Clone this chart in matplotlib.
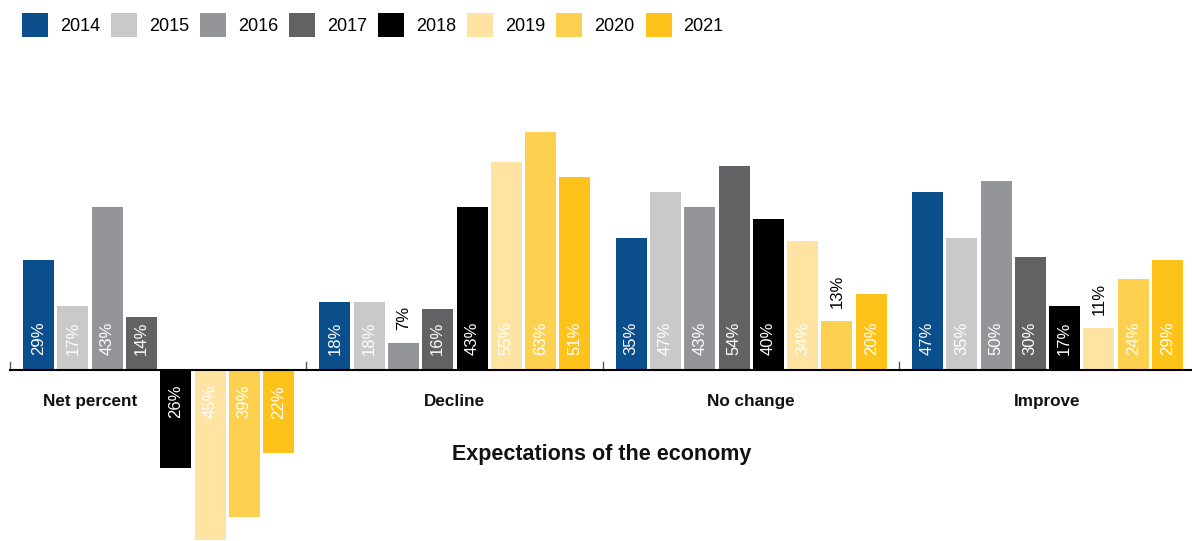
import matplotlib
matplotlib.use("Agg")
import matplotlib.pyplot as plt
from matplotlib.patches import Patch

plt.rcParams['font.family'] = ['Liberation Sans', 'DejaVu Sans']

# data
groups = ["Net percent", "Decline", "No change", "Improve"]
years = ["2014", "2015", "2016", "2017", "2018", "2019", "2020", "2021"]
net_percent = [29, 17, 43, 14, -26, -45, -39, -22]
decline = [18, 18, 7, 16, 43, 55, 63, 51]
no_change = [35, 47, 43, 54, 40, 34, 13, 20]
improve = [47, 35, 50, 30, 17, 11, 24, 29]
values = [net_percent, decline, no_change, improve]
colors = ["#0a4e8c", "#c8c9c8", "#949598", "#626264", "#000000",
          "#fee3a2", "#fdd14f", "#fec31a"]
title = "Expectations of the economy"

# layout (x in pixel-like units)
W, H = 1192, 541
x0 = 10          # start of first group
group_w = 296.3
slot = 34.3
bar_w = 31
pad = 13
outside_max = 13  # labels of bars this small go above the bar

fig = plt.figure(figsize=(W / 100, H / 100), dpi=100)
ax = fig.add_axes([0, 0, 1, 1])
ax.set_xlim(0, W)
ax.set_ylim(-45.3, 97.9)
ax.axis("off")

for g, (name, vals) in enumerate(zip(groups, values)):
    start = x0 + g * group_w
    xs = [start + pad + bar_w / 2 + j * slot for j in range(len(vals))]
    ax.bar(xs, vals, width=bar_w, color=colors, zorder=2)
    for x, v in zip(xs, vals):
        txt = f"{abs(v)}%"
        if v < 0:
            ax.text(x, -4, txt, rotation=90, ha="center", va="top",
                    color="white", fontsize=12)
        elif v <= outside_max:
            ax.text(x, v + 3.5, txt, rotation=90, ha="center", va="bottom",
                    color="black", fontsize=12)
        else:
            ax.text(x, 4, txt, rotation=90, ha="center", va="bottom",
                    color="white", fontsize=12)
    # group label centred under the non-negative bars
    pos = [x for x, v in zip(xs, vals) if v >= 0]
    lx = (min(pos) + max(pos)) / 2
    ax.text(lx, -8.5, name, ha="center", va="center", fontsize=12.3,
            fontweight="bold", color="#111111")
    # small tick at group start
    ax.plot([start, start], [0, 2.2], color="#555555", lw=1, zorder=1)

ax.plot([x0, W], [0, 0], color="black", lw=1.5, zorder=3)
ax.text(602, -22.5, title, ha="center", va="center", fontsize=15.5,
        fontweight="bold", color="#111111")

handles = [Patch(facecolor=c, edgecolor="none", label=y) for c, y in zip(colors, years)]
fig.legend(handles=handles, loc="center left", bbox_to_anchor=(22 / W, 1 - 25 / H),
           ncol=8, frameon=False, fontsize=13, handlelength=1.44,
           handleheight=1.75, handletextpad=0.66, columnspacing=0.61,
           borderaxespad=0, borderpad=0)

fig.savefig("out.png", dpi=100)
